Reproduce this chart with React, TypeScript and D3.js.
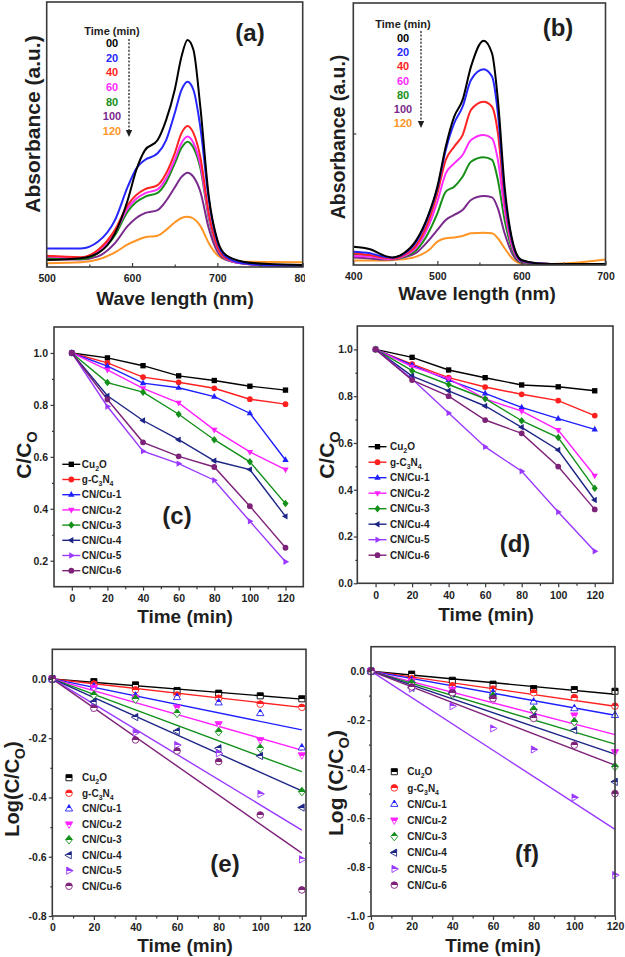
import React, { useEffect, useRef } from "react";
import * as d3 from "d3";

const FONT = "'Liberation Sans', Arial, Helvetica, sans-serif";
const INK = "#1e1e1e";
const FRAME = "#3a3a3a";

// (a) spectra 500-800 nm, one row per irradiation time
const waveA = [500, 540, 560, 580, 595, 605, 615, 630, 640, 650, 658, 665, 672, 680, 690, 700, 710, 730, 760, 800];
const absA = [
  [0.026, 0.033, 0.052, 0.127, 0.253, 0.366, 0.44, 0.479, 0.555, 0.668, 0.794, 0.857, 0.819, 0.605, 0.265, 0.102, 0.045, 0.02, 0.011, 0.008], // 00
  [0.07, 0.07, 0.095, 0.177, 0.303, 0.372, 0.404, 0.429, 0.479, 0.58, 0.668, 0.699, 0.668, 0.529, 0.253, 0.095, 0.039, 0.014, 0.006, 0.004], // 20
  [0.042, 0.037, 0.064, 0.14, 0.234, 0.272, 0.293, 0.309, 0.354, 0.429, 0.505, 0.532, 0.505, 0.416, 0.203, 0.077, 0.033, 0.014, 0.006, 0.004], // 40
  [0.04, 0.035, 0.06, 0.13, 0.222, 0.258, 0.278, 0.293, 0.335, 0.405, 0.468, 0.492, 0.468, 0.388, 0.19, 0.072, 0.031, 0.013, 0.006, 0.004], // 60
  [0.035, 0.03, 0.052, 0.12, 0.21, 0.245, 0.265, 0.28, 0.32, 0.39, 0.45, 0.473, 0.45, 0.374, 0.183, 0.07, 0.03, 0.013, 0.006, 0.004], // 80
  [0.03, 0.028, 0.04, 0.09, 0.155, 0.185, 0.203, 0.215, 0.25, 0.3, 0.34, 0.356, 0.34, 0.285, 0.145, 0.058, 0.027, 0.013, 0.007, 0.005], // 100
  [0.014, 0.018, 0.028, 0.055, 0.085, 0.1, 0.112, 0.118, 0.14, 0.168, 0.185, 0.19, 0.183, 0.155, 0.09, 0.045, 0.028, 0.02, 0.019, 0.018], // 120
];

// (b) spectra 400-700 nm
const waveB = [400, 420, 435, 447, 460, 475, 490, 500, 510, 520, 530, 540, 555, 565, 572, 580, 590, 600, 620, 650, 700];
const absB = [
  [0.07, 0.06, 0.038, 0.029, 0.045, 0.095, 0.197, 0.299, 0.452, 0.566, 0.63, 0.757, 0.856, 0.808, 0.63, 0.299, 0.083, 0.019, 0.006, 0.004, 0.004],
  [0.051, 0.045, 0.032, 0.028, 0.042, 0.089, 0.191, 0.293, 0.439, 0.541, 0.604, 0.706, 0.747, 0.719, 0.579, 0.274, 0.076, 0.016, 0.006, 0.004, 0.004],
  [0.045, 0.038, 0.029, 0.025, 0.038, 0.076, 0.172, 0.274, 0.401, 0.452, 0.496, 0.592, 0.623, 0.604, 0.503, 0.248, 0.07, 0.015, 0.006, 0.004, 0.004],
  [0.034, 0.032, 0.025, 0.023, 0.034, 0.067, 0.153, 0.242, 0.35, 0.388, 0.42, 0.477, 0.496, 0.483, 0.401, 0.21, 0.06, 0.013, 0.006, 0.004, 0.004],
  [0.042, 0.034, 0.025, 0.022, 0.032, 0.057, 0.127, 0.197, 0.28, 0.299, 0.337, 0.394, 0.411, 0.401, 0.324, 0.172, 0.051, 0.01, 0.004, 0.004, 0.004],
  [0.029, 0.025, 0.021, 0.021, 0.029, 0.047, 0.095, 0.134, 0.172, 0.191, 0.21, 0.248, 0.263, 0.258, 0.216, 0.121, 0.038, 0.009, 0.005, 0.004, 0.004],
  [0.017, 0.017, 0.017, 0.019, 0.022, 0.032, 0.057, 0.089, 0.102, 0.105, 0.111, 0.121, 0.123, 0.121, 0.102, 0.064, 0.022, 0.006, 0.004, 0.006, 0.021],
];

const timeLabels = ["00", "20", "40", "60", "80", "100", "120"];
const specColors = ["#000000", "#2626ff", "#ff2424", "#ff2bff", "#178f17", "#7a2a8c", "#ff9526"];
const waveTicksA = [500, 600, 700, 800];
const waveMinorA = [550, 650, 750];
const waveTicksB = [400, 500, 600, 700];
const waveMinorB = [450, 550, 650];

// (c)-(f) kinetics
const times = [0, 20, 40, 60, 80, 100, 120];
const samples = ["Cu2O", "g-C3N4", "CN/Cu-1", "CN/Cu-2", "CN/Cu-3", "CN/Cu-4", "CN/Cu-5", "CN/Cu-6"];
const sampleColors = ["#000000", "#ff1f1f", "#1f1fff", "#ff1fff", "#13901a", "#1c2585", "#9a38ff", "#7e2178"];
const sampleShapes = ["square", "circle", "up", "down", "diamond", "left", "right", "circle"];

const ratioC = [
  [1, 0.981, 0.951, 0.912, 0.894, 0.872, 0.857],
  [1, 0.962, 0.907, 0.887, 0.864, 0.822, 0.803],
  [1, 0.949, 0.884, 0.866, 0.832, 0.768, 0.588],
  [1, 0.935, 0.864, 0.808, 0.704, 0.619, 0.551],
  [1, 0.886, 0.849, 0.764, 0.666, 0.581, 0.42],
  [1, 0.835, 0.74, 0.666, 0.585, 0.551, 0.371],
  [1, 0.794, 0.622, 0.574, 0.51, 0.352, 0.196],
  [1, 0.821, 0.656, 0.602, 0.561, 0.41, 0.25],
];
const ratioD = [
  [1, 0.966, 0.912, 0.879, 0.848, 0.84, 0.823],
  [1, 0.937, 0.879, 0.839, 0.808, 0.781, 0.717],
  [1, 0.933, 0.869, 0.812, 0.752, 0.704, 0.658],
  [1, 0.926, 0.875, 0.788, 0.736, 0.655, 0.46],
  [1, 0.909, 0.85, 0.789, 0.695, 0.623, 0.406],
  [1, 0.886, 0.823, 0.758, 0.667, 0.57, 0.356],
  [1, 0.873, 0.728, 0.583, 0.479, 0.305, 0.137],
  [1, 0.869, 0.8, 0.698, 0.641, 0.499, 0.316],
];
const logE = [
  [0, -0.009, -0.02, -0.039, -0.048, -0.057, -0.067],
  [0, -0.017, -0.037, -0.054, -0.065, -0.085, -0.096],
  [0, -0.026, -0.057, -0.062, -0.08, -0.116, -0.232],
  [0, -0.029, -0.063, -0.096, -0.152, -0.206, -0.257],
  [0, -0.054, -0.068, -0.116, -0.178, -0.234, -0.38],
  [0, -0.077, -0.129, -0.176, -0.234, -0.26, -0.434],
  [0, -0.096, -0.181, -0.223, -0.251, -0.388, -0.609],
  [0, -0.099, -0.206, -0.243, -0.279, -0.459, -0.712],
];
const fitE = [-0.068, -0.096, -0.172, -0.24, -0.313, -0.378, -0.51, -0.588];
const logF = [
  [0, -0.012, -0.037, -0.053, -0.071, -0.075, -0.082],
  [0, -0.03, -0.06, -0.073, -0.088, -0.108, -0.143],
  [0, -0.037, -0.078, -0.088, -0.125, -0.152, -0.18],
  [0, -0.04, -0.075, -0.118, -0.166, -0.18, -0.33],
  [0, -0.048, -0.094, -0.102, -0.157, -0.207, -0.39],
  [0, -0.068, -0.091, -0.108, -0.186, -0.241, -0.452],
  [0, -0.071, -0.143, -0.234, -0.32, -0.516, -0.833],
  [0, -0.064, -0.088, -0.112, -0.193, -0.302, -0.5],
];
const fitF = [-0.094, -0.143, -0.18, -0.259, -0.298, -0.339, -0.646, -0.384];

const timeTicks = [0, 20, 40, 60, 80, 100, 120];
const timeMinor = [10, 30, 50, 70, 90, 110];
const ticksC = [0.2, 0.4, 0.6, 0.8, 1.0];
const minorC = [0.3, 0.5, 0.7, 0.9];
const ticksD = [0.0, 0.2, 0.4, 0.6, 0.8, 1.0];
const minorD = [0.1, 0.3, 0.5, 0.7, 0.9];
const ticksE = [-0.8, -0.6, -0.4, -0.2, 0.0];
const minorE = [-0.7, -0.5, -0.3, -0.1];
const ticksF = [-1.0, -0.8, -0.6, -0.4, -0.2, 0.0];
const minorF = [-0.9, -0.7, -0.5, -0.3, -0.1];

type Box = { l: number; r: number; t: number; b: number };
type Sel = d3.Selection<any, unknown, null, undefined>;

function glyph(shape: string, r: number): string {
  if (shape === "circle") return d3.symbol(d3.symbolCircle, Math.PI * r * r)() as string;
  if (shape === "square") return d3.symbol(d3.symbolSquare, 3.4 * r * r)() as string;
  const pts: Record<string, number[][]> = {
    up: [[0, -1.25], [1.1, 0.7], [-1.1, 0.7]],
    down: [[-1.1, -0.7], [1.1, -0.7], [0, 1.25]],
    left: [[-1.25, 0], [0.7, -1.1], [0.7, 1.1]],
    right: [[1.25, 0], [-0.7, -1.1], [-0.7, 1.1]],
    diamond: [[0, -1.3], [1.05, 0], [0, 1.3], [-1.05, 0]],
  };
  const p = d3.path();
  pts[shape].forEach(([a, b], i) => (i ? p.lineTo(a * r, b * r) : p.moveTo(a * r, b * r)));
  p.closePath();
  return p.toString();
}

function splitLabel(label: string): [string, boolean][] {
  const out: [string, boolean][] = [];
  for (let i = 0; i < label.length; i++) {
    const ch = label[i];
    const sub = /\d/.test(ch) && i > 0 && /[A-Za-z]/.test(label[i - 1]);
    if (out.length && out[out.length - 1][1] === sub) out[out.length - 1][0] += ch;
    else out.push([ch, sub]);
  }
  return out;
}

function rich(text: Sel, parts: [string, boolean][], fs: number) {
  let down = false;
  parts.forEach(([s, sub]) => {
    const t = text.append("tspan").text(s);
    if (sub) {
      t.attr("font-size", fs * 0.7);
      if (!down) { t.attr("dy", fs * 0.3); down = true; }
    } else if (down) {
      t.attr("dy", -fs * 0.3);
      down = false;
    }
  });
}

function label(g: Sel, x: number, y: number, s: string, fs: number, anchor = "middle", fill = INK) {
  return g.append("text").attr("x", x).attr("y", y).attr("text-anchor", anchor)
    .attr("font-family", FONT).attr("font-weight", "bold").attr("font-size", fs).attr("fill", fill).text(s);
}

function yTitle(g: Sel, cx: number, cy: number, parts: [string, boolean][], fs: number) {
  const t = g.append("text").attr("transform", `translate(${cx},${cy}) rotate(-90)`)
    .attr("text-anchor", "middle").attr("font-family", FONT).attr("font-weight", "bold")
    .attr("font-size", fs).attr("fill", INK);
  rich(t, parts, fs);
}

function frame(g: Sel, b: Box) {
  g.append("rect").attr("x", b.l).attr("y", b.t).attr("width", b.r - b.l).attr("height", b.b - b.t)
    .attr("fill", "none").attr("stroke", FRAME).attr("stroke-width", 1.6);
}

function styleAxis(ax: Sel) {
  ax.select(".domain").remove();
  ax.attr("font-family", FONT).attr("font-size", 10.5).attr("font-weight", "bold");
  ax.selectAll("text").attr("fill", INK);
  ax.selectAll("line").attr("stroke", FRAME).attr("stroke-width", 1.2);
}

function xAxis(g: Sel, x: any, b: Box, major: number[], minor: number[], inside: boolean, spacing: number, fmt: (v: any) => string) {
  const s = inside ? -4 : 4;
  const a = g.append("g").attr("transform", `translate(0,${b.b})`)
    .call(d3.axisBottom(x).tickValues(major).tickSizeInner(s).tickSizeOuter(0)
      .tickPadding(spacing - Math.max(s, 0)).tickFormat(fmt));
  styleAxis(a);
  const m = g.append("g").attr("transform", `translate(0,${b.b})`)
    .call(d3.axisBottom(x).tickValues(minor).tickSizeInner(inside ? -2.5 : 2.5).tickSizeOuter(0).tickFormat(() => ""));
  styleAxis(m);
}

function yAxis(g: Sel, y: any, b: Box, major: number[], minor: number[], spacing: number) {
  const a = g.append("g").attr("transform", `translate(${b.l},0)`)
    .call(d3.axisLeft(y).tickValues(major).tickSizeInner(3.5).tickSizeOuter(0)
      .tickPadding(spacing - 3.5).tickFormat((v: any) => (+v).toFixed(1)));
  styleAxis(a);
  const m = g.append("g").attr("transform", `translate(${b.l},0)`)
    .call(d3.axisLeft(y).tickValues(minor).tickSizeInner(2).tickSizeOuter(0).tickFormat(() => ""));
  styleAxis(m);
}

function spectra(g: Sel, o: any) {
  const b: Box = o.box;
  const x = d3.scaleLinear().domain(o.xDom).range([b.l, b.r]);
  const y = d3.scaleLinear().domain([0, 1]).range([b.b, b.t]);
  const line = d3.line<number>().x((_, i) => x(o.waves[i])).y((d) => y(d)).curve(d3.curveMonotoneX);
  for (let k = o.series.length - 1; k >= 0; k--) {
    g.append("path").attr("d", line(o.series[k])).attr("fill", "none")
      .attr("stroke", specColors[k]).attr("stroke-width", 2).attr("stroke-linejoin", "round");
  }
  frame(g, b);
  xAxis(g, x, b, o.major, o.minor, true, 8, (v: any) => String(v));
  if (o.midTick) {
    g.append("line").attr("x1", b.l).attr("x2", b.l + 3).attr("y1", y(0.5)).attr("y2", y(0.5))
      .attr("stroke", FRAME).attr("stroke-width", 1.2);
  }
  // legend
  label(g, o.legX, o.legTitleY, "Time (min)", 11);
  timeLabels.forEach((t, i) => label(g, o.legX, o.legY + i * o.legStep + 4, t, 11, "middle", specColors[i]));
  g.append("line").attr("x1", o.arrowX).attr("x2", o.arrowX).attr("y1", o.arrowY0).attr("y2", o.arrowY1 - 6)
    .attr("stroke", INK).attr("stroke-width", 1.3).attr("stroke-dasharray", "2,1.6");
  g.append("path").attr("d", `M${o.arrowX - 3.2},${o.arrowY1 - 7}L${o.arrowX + 3.2},${o.arrowY1 - 7}L${o.arrowX},${o.arrowY1}Z`)
    .attr("fill", INK);
  label(g, o.panelX, o.panelY, o.panel, 24);
  label(g, o.xtX, o.xtY, "Wave length (nm)", 19);
  yTitle(g, o.ytX, o.ytY, [["Absorbance (a.u.)", false]], o.ytFs);
}

function kinetics(g: Sel, o: any) {
  const b: Box = o.box;
  const x = d3.scaleLinear().domain(o.xDom).range([b.l, b.r]);
  const y = d3.scaleLinear().domain(o.yDom).range([b.b, b.t]);
  const data: number[][] = o.data;
  const r = o.fits ? 3.3 : 2.9;
  if (!o.fits) {
    const line = d3.line<number>().x((_, i) => x(times[i])).y((d) => y(d));
    data.forEach((vals, k) => {
      g.append("path").attr("d", line(vals)).attr("fill", "none")
        .attr("stroke", sampleColors[k]).attr("stroke-width", 1.4);
    });
  } else {
    const fit = d3.line<number[]>().x((d) => x(d[0])).y((d) => y(d[1]));
    o.fits.forEach((f: number, k: number) => {
      g.append("path").attr("d", fit([[0, 0], [times[times.length - 1], f]])).attr("fill", "none")
        .attr("stroke", sampleColors[k]).attr("stroke-width", 1.4);
    });
  }
  data.forEach((vals, k) => {
    vals.forEach((v, i) => {
      const p = g.append("path").attr("d", glyph(sampleShapes[k], r))
        .attr("transform", `translate(${x(times[i])},${y(v)})`);
      if (o.fits) p.attr("fill", `url(#half${k})`).attr("stroke", sampleColors[k]).attr("stroke-width", 0.9);
      else p.attr("fill", sampleColors[k]);
    });
  });
  frame(g, b);
  xAxis(g, x, b, timeTicks, timeMinor, false, o.sx, (v: any) => String(v));
  yAxis(g, y, b, o.yMajor, o.yMinor, o.sy);

  samples.forEach((s, k) => {
    const ly = o.legY + k * o.legStep;
    if (!o.fits) {
      g.append("line").attr("x1", o.legX - 9).attr("x2", o.legX + 9).attr("y1", ly).attr("y2", ly)
        .attr("stroke", sampleColors[k]).attr("stroke-width", 1.4);
      g.append("path").attr("d", glyph(sampleShapes[k], r)).attr("transform", `translate(${o.legX},${ly})`)
        .attr("fill", sampleColors[k]);
    } else {
      g.append("path").attr("d", glyph(sampleShapes[k], r)).attr("transform", `translate(${o.legX},${ly})`)
        .attr("fill", `url(#half${k})`).attr("stroke", sampleColors[k]).attr("stroke-width", 0.9);
    }
    const t = g.append("text").attr("x", o.legX + o.legDx).attr("y", ly + 3.6)
      .attr("font-family", FONT).attr("font-weight", "bold").attr("font-size", 10).attr("fill", INK);
    rich(t, splitLabel(s), 10);
  });

  label(g, o.panelX, o.panelY, o.panel, 24);
  label(g, o.xtX, o.xtY, "Time (min)", 19);
  yTitle(g, o.ytX, o.ytY, o.ytParts, o.ytFs);
}

function draw(node: SVGSVGElement) {
  const svg = d3.select(node);
  svg.selectAll("*").remove();
  svg.append("rect").attr("width", 625).attr("height", 957).attr("fill", "#fff");
  const defs = svg.append("defs");
  defs.append("clipPath").attr("id", "clipA").append("rect")
    .attr("x", 0).attr("y", 0).attr("width", 305).attr("height", 320);
  sampleColors.forEach((c, i) => {
    const lg = defs.append("linearGradient").attr("id", `half${i}`)
      .attr("x1", 0).attr("y1", 0).attr("x2", 0).attr("y2", 1);
    lg.append("stop").attr("offset", 0).attr("stop-color", c);
    lg.append("stop").attr("offset", 0.5).attr("stop-color", c);
    lg.append("stop").attr("offset", 0.5).attr("stop-color", "#fff");
    lg.append("stop").attr("offset", 1).attr("stop-color", "#fff");
  });

  spectra(svg.append("g").attr("clip-path", "url(#clipA)"), {
    box: { l: 46.7, r: 302.7, t: 2, b: 267 }, xDom: [500, 800], waves: waveA, series: absA,
    major: waveTicksA, minor: waveMinorA,
    legX: 112, legTitleY: 35, legY: 43.3, legStep: 14.55, arrowX: 129, arrowY0: 39, arrowY1: 137,
    panel: "(a)", panelX: 250, panelY: 41, xtX: 175, xtY: 305, ytX: 39.5, ytY: 124, ytFs: 21,
  });
  spectra(svg.append("g"), {
    box: { l: 353.3, r: 605.5, t: 3, b: 265 }, xDom: [400, 700], waves: waveB, series: absB,
    major: waveTicksB, minor: waveMinorB, midTick: true,
    legX: 403, legTitleY: 28, legY: 38, legStep: 14.2, arrowX: 421, arrowY0: 31, arrowY1: 128,
    panel: "(b)", panelX: 558, panelY: 36, xtX: 477, xtY: 299.5, ytX: 345, ytY: 137, ytFs: 19.5,
  });

  const cc: [string, boolean][] = [["C/C", false], ["O", true]];
  kinetics(svg.append("g"), {
    box: { l: 54, r: 303.3, t: 327, b: 586.7 }, xDom: [-10, 130], yDom: [0.1, 1.1], data: ratioC,
    yMajor: ticksC, yMinor: minorC, sx: 7.5, sy: 6,
    legX: 71.3, legDx: 10.5, legY: 464.3, legStep: 15.2,
    panel: "(c)", panelX: 177, panelY: 524, xtX: 185, xtY: 622.5,
    ytParts: cc, ytX: 30.5, ytY: 455, ytFs: 21,
  });
  kinetics(svg.append("g"), {
    box: { l: 357.3, r: 613, t: 326, b: 583.3 }, xDom: [-10, 130], yDom: [0, 1.1], data: ratioD,
    yMajor: ticksD, yMinor: minorD, sx: 8, sy: 4.5,
    legX: 377.5, legDx: 12.5, legY: 446.7, legStep: 15.5,
    panel: "(d)", panelX: 515, panelY: 552, xtX: 486, xtY: 620.5,
    ytParts: cc, ytX: 333.5, ytY: 455, ytFs: 21,
  });
  kinetics(svg.append("g"), {
    box: { l: 52.3, r: 306, t: 649.3, b: 916 }, xDom: [0, 122], yDom: [-0.8, 0.1], data: logE, fits: fitE,
    yMajor: ticksE, yMinor: minorE, sx: 7.8, sy: 5.6,
    legX: 69, legDx: 13, legY: 777.7, legStep: 15.5,
    panel: "(e)", panelX: 225, panelY: 872, xtX: 185, xtY: 952,
    ytParts: [["Log(C/C", false], ["O", true], [")", false]], ytX: 18.5, ytY: 789, ytFs: 20,
  });
  kinetics(svg.append("g"), {
    box: { l: 371, r: 615, t: 646.7, b: 916 }, xDom: [0, 120], yDom: [-1.0, 0.1], data: logF, fits: fitF,
    yMajor: ticksF, yMinor: minorF, sx: 6.8, sy: 6,
    legX: 394.3, legDx: 13, legY: 771.7, legStep: 16.2,
    panel: "(f)", panelX: 527, panelY: 862, xtX: 493, xtY: 951.5,
    ytParts: [["Log (C/C", false], ["O", true], [")", false]], ytX: 343, ytY: 783, ytFs: 21,
  });
}

export default function App() {
  const ref = useRef<SVGSVGElement>(null);
  useEffect(() => {
    if (ref.current) draw(ref.current);
  }, []);
  return (
    <svg ref={ref} width={625} height={957}
      style={{ position: "absolute", left: 0, top: 0, background: "#fff" }} />
  );
}
